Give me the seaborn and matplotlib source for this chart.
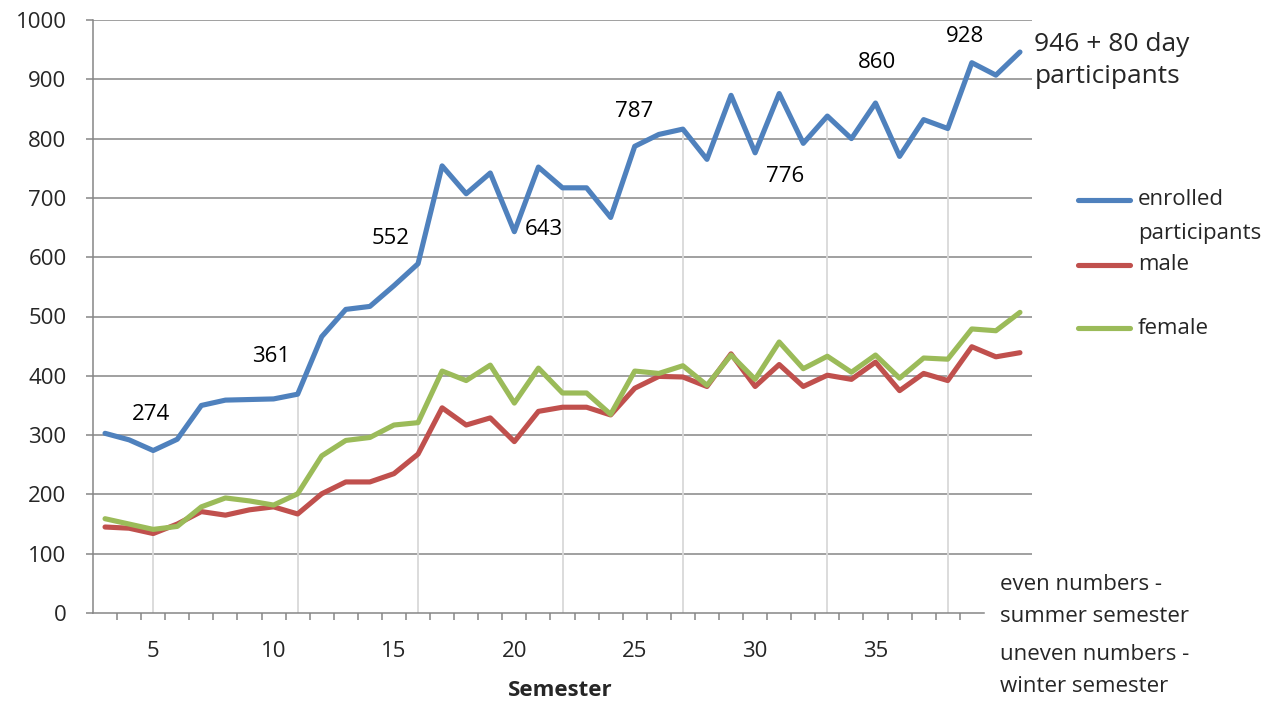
import matplotlib
matplotlib.use("Agg")
import matplotlib.pyplot as plt
import seaborn as sns
import pandas as pd
from matplotlib.lines import Line2D

# Semester numbers (even = summer semester, uneven = winter semester)
semesters = list(range(3, 42))

enrolled = [303, 292, 274, 293, 350, 359, 360, 361, 369, 466, 512, 517, 552, 589,
            754, 707, 742, 643, 752, 717, 717, 667, 787, 807, 816, 765, 873, 776,
            876, 792, 838, 800, 860, 770, 832, 817, 928, 907, 946]
male = [145, 143, 134, 150, 171, 165, 174, 179, 167, 201, 221, 221, 235, 268,
        346, 317, 329, 289, 340, 347, 347, 334, 379, 399, 398, 382, 437, 382,
        419, 382, 401, 394, 423, 375, 404, 392, 449, 432, 439]
female = [159, 150, 141, 146, 179, 194, 189, 182, 201, 265, 291, 296, 317, 321,
          408, 392, 418, 354, 413, 371, 371, 335, 408, 404, 417, 384, 435, 394,
          457, 412, 433, 406, 435, 396, 430, 428, 479, 476, 507]

series_names = ["enrolled\nparticipants", "male", "female"]
series_colors = ["#4F81BD", "#C0504D", "#9BBB59"]

# Semesters marked with a drop line and semesters carrying a value label
drop_semesters = [5, 11, 16, 22, 27, 33, 38]
label_semesters = [5, 10, 15, 20, 25, 30, 35, 39]

df = pd.DataFrame({
    "Semester": semesters * 3,
    "count": enrolled + male + female,
    "series": ([series_names[0]] * len(semesters) + [series_names[1]] * len(semesters)
               + [series_names[2]] * len(semesters)),
})

sns.set_style("white")
plt.rcParams["font.family"] = ["Open Sans", "DejaVu Sans"]

FS = 16

fig = plt.figure(figsize=(12.76, 7.02), dpi=100)
ax = fig.add_axes([93 / 1276, 89 / 702, (1032 - 93) / 1276, (613 - 20) / 702])

# Horizontal gridlines
for v in range(100, 1001, 100):
    ax.axhline(v, color="#868686", lw=1.1, zorder=0)

# Drop lines from the enrolled curve down to the axis
drop_vals = [enrolled[semesters.index(s)] for s in drop_semesters]
ax.vlines(drop_semesters, 0, drop_vals, color="#D9D9D9", lw=1.3, zorder=1)

sns.lineplot(data=df, x="Semester", y="count", hue="series", hue_order=series_names,
             palette=series_colors, lw=3.7, ax=ax, legend=False, zorder=3)
for ln in ax.lines:
    ln.set_solid_joinstyle("round")
    ln.set_solid_capstyle("round")

ax.set_xlim(2.5, 41.5)
ax.set_ylim(0, 1000)

# Axes styling
for side in ["top", "right"]:
    ax.spines[side].set_visible(False)
ax.spines["left"].set_color("#868686")
ax.spines["bottom"].set_color("#868686")
ax.spines["bottom"].set_bounds(2.5, 39.5)
ax.spines["left"].set_linewidth(1.1)
ax.spines["bottom"].set_linewidth(1.1)

ax.set_yticks(range(0, 1001, 100))
ax.tick_params(axis="y", which="major", length=5, width=1.1, color="#868686",
               labelsize=FS, pad=14, left=True)
ax.set_xticks([5, 10, 15, 20, 25, 30, 35])
ax.set_xticks([s + 0.5 for s in range(3, 39)], minor=True)
ax.tick_params(axis="x", which="major", length=0, labelsize=FS, pad=20)
ax.tick_params(axis="x", which="minor", length=5, width=1.1, color="#868686",
               direction="out", bottom=True)

ax.set_xlabel("")
ax.set_ylabel("")
fig.text(560 / 1276, 1 - 690 / 702, "Semester", ha="center", va="center",
         fontsize=FS, fontweight="bold")

# Value labels
label_pos = {
    5: (4.92, 334), 10: (9.88, 432), 15: (14.88, 632), 20: (21.23, 646),
    25: (24.96, 845), 30: (31.26, 736), 35: (35.08, 929), 39: (38.73, 972),
}
for s in label_semesters:
    x, y = label_pos[s]
    ax.text(x, y, str(enrolled[semesters.index(s)]), ha="center", va="center",
            fontsize=FS, color="#000000")

last = enrolled[-1]
ax.text(41.6, 932, f"{last} + 80 day\nparticipants", ha="left", va="center",
        fontsize=19, linespacing=1.35, clip_on=False)

# Legend drawn beside the plot
legend_rows = [200, 265, 328]
for ypix, name, col in zip(legend_rows, series_names, series_colors):
    yf = 1 - ypix / 702
    fig.add_artist(Line2D([1078 / 1276, 1130 / 1276], [yf, yf], color=col, lw=3.7,
                          solid_capstyle="round", transform=fig.transFigure))
    if "\n" in name:
        for k, part in enumerate(name.split("\n")):
            fig.text(1138 / 1276, 1 - (ypix + 34 * k) / 702, part, ha="left",
                     va="center", fontsize=FS)
    else:
        fig.text(1138 / 1276, yf, name, ha="left", va="center", fontsize=FS)

# Note about semester numbering
note = ["even numbers -", "summer semester", "uneven numbers -", "winter semester"]
for ypix, line in zip([585, 617, 654, 686], note):
    fig.text(1000 / 1276, 1 - ypix / 702, line, ha="left", va="center", fontsize=FS)

fig.savefig("out.png", dpi=100)
